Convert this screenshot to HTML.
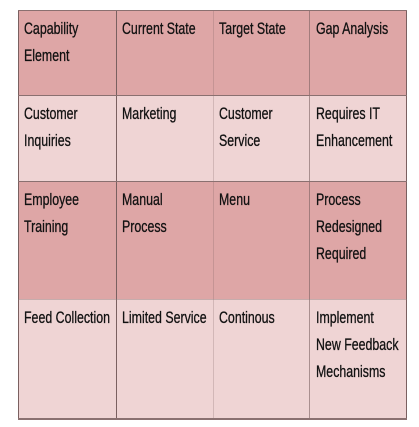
<!DOCTYPE html>
<html><head><meta charset="utf-8"><style>
body{margin:0;width:419px;height:427px;background:#fff;position:relative;overflow:hidden;font-family:"Liberation Sans",sans-serif;}
.c{position:absolute;box-sizing:border-box;padding:6px 0 0 8px;font-size:16.5px;line-height:27px;color:#111;white-space:nowrap;transform:scaleX(0.75);transform-origin:0 0;-webkit-text-stroke:0.3px #111}
.b{position:absolute}
.d{background:#dea6a6}.l{background:#efd4d4}
.v{position:absolute;width:1px;background:#7a6060}
.h{position:absolute;height:1px;left:18px;width:389px;background:#8a7070}
</style></head><body>
<div class="b d" style="left:18px;top:10px;width:389px;height:85px"></div>
<div class="b l" style="left:18px;top:95px;width:389px;height:86px"></div>
<div class="b d" style="left:18px;top:181px;width:389px;height:118px"></div>
<div class="b l" style="left:18px;top:299px;width:389px;height:120px"></div>

<div class="c" style="left:18px;top:10px">Capability<br>Element</div>
<div class="c" style="left:116px;top:10px">Current State</div>
<div class="c" style="left:213px;top:10px">Target State</div>
<div class="c" style="left:310px;top:10px">Gap Analysis</div>

<div class="c" style="left:18px;top:95px">Customer<br>Inquiries</div>
<div class="c" style="left:116px;top:95px">Marketing</div>
<div class="c" style="left:213px;top:95px">Customer<br>Service</div>
<div class="c" style="left:310px;top:95px">Requires IT<br>Enhancement</div>

<div class="c" style="left:18px;top:181px">Employee<br>Training</div>
<div class="c" style="left:116px;top:181px">Manual<br>Process</div>
<div class="c" style="left:213px;top:181px">Menu</div>
<div class="c" style="left:310px;top:181px">Process<br>Redesigned<br>Required</div>

<div class="c" style="left:18px;top:299px">Feed Collection</div>
<div class="c" style="left:116px;top:299px">Limited Service</div>
<div class="c" style="left:213px;top:299px">Continous</div>
<div class="c" style="left:310px;top:299px">Implement<br>New Feedback<br>Mechanisms</div>

<div class="v" style="left:18px;top:10px;height:409px"></div>
<div class="v" style="left:116px;top:10px;height:409px"></div>
<div class="v" style="left:213px;top:10px;height:409px;opacity:.25"></div>
<div class="v" style="left:309px;top:10px;height:409px;opacity:.6"></div>
<div class="v" style="left:406px;top:10px;height:409px"></div>
<div class="h" style="top:10px"></div>
<div class="h" style="top:95px"></div>
<div class="h" style="top:181px"></div>
<div class="h" style="top:299px;opacity:.4"></div>
<div class="h" style="top:418px;height:2px"></div>
</body></html>
